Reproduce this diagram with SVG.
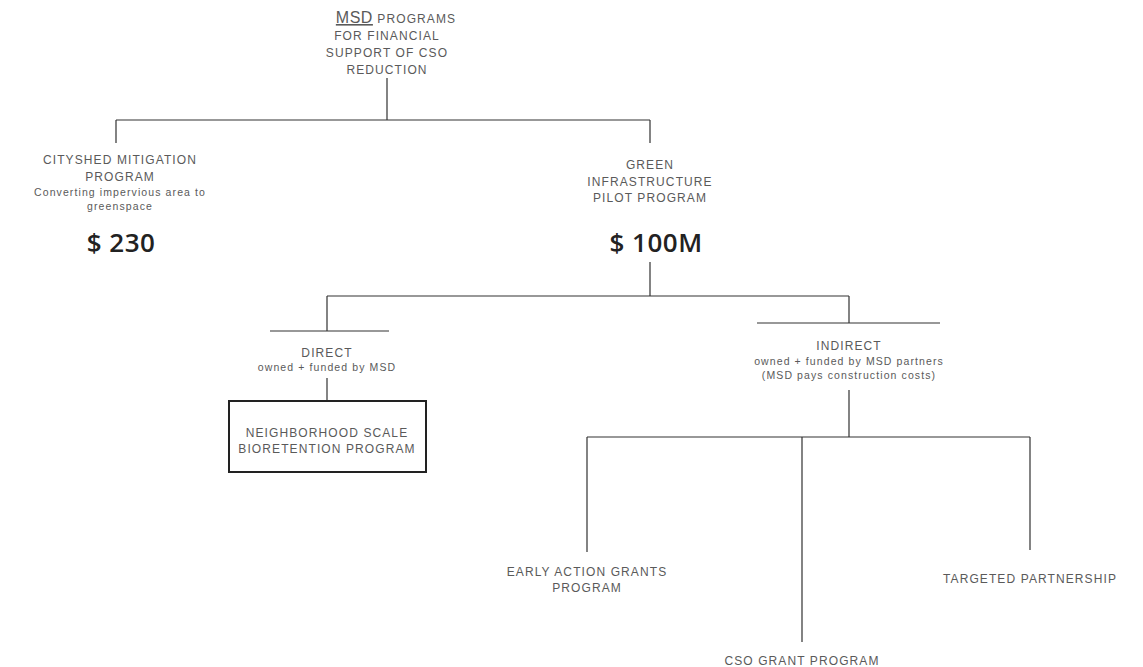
<svg xmlns="http://www.w3.org/2000/svg" width="1143" height="667" viewBox="0 0 1143 667">
  <style>
    .line { stroke: #333; stroke-width: 1.2; fill: none; }
    .box { stroke: #222; stroke-width: 2; fill: #fff; }
    text { font-family: "Liberation Sans", "DejaVu Sans", sans-serif; fill: #5a5a5a; text-anchor: middle; }
    .t { font-size: 12px; letter-spacing: 1.1px; }
    .s { font-size: 10.5px; letter-spacing: 1.1px; }
    .h { font-size: 16px; letter-spacing: 0.5px; }
    .m { font-family: "Open Sans", "Liberation Sans", sans-serif; font-size: 26px; font-weight: 600; fill: #222; letter-spacing: 0.5px; }
  </style>
  <rect width="1143" height="667" fill="#fff"/>

  <g id="connectors">
    <path class="line" d="M387,78 V120 M116,120 H650 M116,120 V143 M650,120 V143"/>
    <path class="line" d="M650,262 V296 M327,296 H849 M327,296 V331 M270,331 H389 M849,296 V323 M757,323 H940"/>
    <path class="line" d="M327,378 V401"/>
    <path class="line" d="M849,390 V437 M587,437 H1030 M587,437 V552 M802,437 V642 M1030,437 V550"/>
  </g>

  <g id="root">
    <text x="396" y="23" class="t"><tspan class="h" text-decoration="underline">MSD</tspan> PROGRAMS</text>
    <text x="387" y="40" class="t">FOR FINANCIAL</text>
    <text x="387" y="57" class="t">SUPPORT OF CSO</text>
    <text x="387" y="74" class="t">REDUCTION</text>
  </g>

  <g id="cityshed">
    <text x="120" y="164" class="t">CITYSHED MITIGATION</text>
    <text x="120" y="181" class="t">PROGRAM</text>
    <text x="120" y="196" class="s">Converting impervious area to</text>
    <text x="120" y="210" class="s">greenspace</text>
    <text x="121" y="252" class="m">$ 230</text>
  </g>

  <g id="green-infrastructure">
    <text x="650" y="169" class="t">GREEN</text>
    <text x="650" y="186" class="t">INFRASTRUCTURE</text>
    <text x="650" y="202" class="t">PILOT PROGRAM</text>
    <text x="656" y="252" class="m">$ 100M</text>
  </g>

  <g id="direct">
    <text x="327" y="357" class="t">DIRECT</text>
    <text x="327" y="371" class="s">owned + funded by MSD</text>
  </g>

  <g id="bioretention">
    <rect class="box" x="229" y="401" width="197" height="71"/>
    <text x="327" y="437" class="t">NEIGHBORHOOD SCALE</text>
    <text x="327" y="453" class="t">BIORETENTION PROGRAM</text>
  </g>

  <g id="indirect">
    <text x="849" y="350" class="t">INDIRECT</text>
    <text x="849" y="365" class="s">owned + funded by MSD partners</text>
    <text x="849" y="379" class="s">(MSD pays construction costs)</text>
  </g>

  <g id="early-action">
    <text x="587" y="576" class="t">EARLY ACTION GRANTS</text>
    <text x="587" y="592" class="t">PROGRAM</text>
  </g>

  <g id="cso-grant">
    <text x="802" y="665" class="t">CSO GRANT PROGRAM</text>
  </g>

  <g id="targeted-partnership">
    <text x="1030" y="583" class="t">TARGETED PARTNERSHIP</text>
  </g>
</svg>
